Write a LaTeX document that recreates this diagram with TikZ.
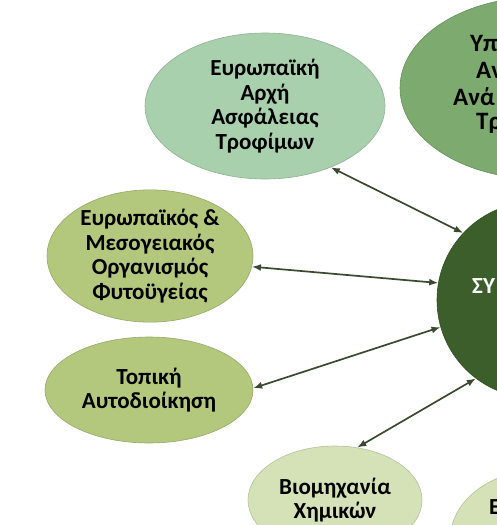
\documentclass[tikz,border=0pt]{standalone}
\usepackage{fontspec}
\setmainfont{Carlito}
\usetikzlibrary{shapes.geometric,arrows.meta}
\definecolor{mint}{HTML}{A9D0AC}
\definecolor{midgreen}{HTML}{7DAA6E}
\definecolor{darkgreen}{HTML}{3B5E2B}
\definecolor{olive}{HTML}{B3C77D}
\definecolor{pale}{HTML}{D5E2B8}
\definecolor{linkgray}{HTML}{3A4A2F}

\begin{document}
\begin{tikzpicture}[x=1pt,y=-1pt,
  bubble/.style={ellipse,draw=#1!85!black,line width=0.6pt,fill=#1,inner sep=0pt,
    align=center,text=black,font=\bfseries\fontsize{23}{24.5}\selectfont},
  cut/.style={anchor=west,inner sep=0pt,font=\bfseries\fontsize{25}{27}\selectfont,text=black},
  link/.style={{Latex[length=9pt,width=7pt]}-{Latex[length=9pt,width=7pt]},
    line width=1.7pt,draw=linkgray}]
\useasboundingbox (0,0) rectangle (497,525);
\clip (0,0) rectangle (497,525);
\node[bubble=mint, minimum width=240pt, minimum height=146pt] (efsa) at (265,106) {Ευρωπαϊκή\\Αρχή\\Ασφάλειας\\Τροφίμων};
\node[bubble=midgreen, minimum width=280pt, minimum height=182pt] (ypaat) at (540,88) {};
\node[bubble=darkgreen, circle, minimum size=196pt] (syn) at (535,300) {};
\node[bubble=olive, minimum width=206pt, minimum height=116pt] (eppo) at (150,256) {Ευρωπαϊκός \&\\Μεσογειακός\\Οργανισμός\\Φυτοϋγείας};
\node[bubble=olive, minimum width=208pt, minimum height=106pt] (ota) at (149,390) {Τοπική\\Αυτοδιοίκηση};
\node[bubble=pale, minimum width=174pt, minimum height=108pt] (xim) at (335,500) {Βιομηχανία\\Χημικών};
\node[bubble=pale, minimum width=180pt, minimum height=140pt] (last) at (540,540) {};
% visible parts of the cut-off texts
\foreach \txt/\x/\y [count=\i] in {Υπ/470/43, Αν/476/70, Ανά/453/97, Τρ/476/123}
  \node[cut] (ypaat-\i) at (\x,\y) {\txt};
\node[cut, text=white, font=\bfseries\fontsize{23}{24}\selectfont] (syn-txt) at (472,286) {ΣΥ};
\node[cut, font=\bfseries\fontsize{23}{24}\selectfont] (last-txt) at (489,507) {Ε};
\draw[link] (efsa.-43) -- (syn.137);
\draw[link] (eppo.-6) -- (syn.170);
\draw[link] (ota.1) -- (syn.196);
\draw[link] (xim.67) -- (syn.233);
\end{tikzpicture}
\end{document}
